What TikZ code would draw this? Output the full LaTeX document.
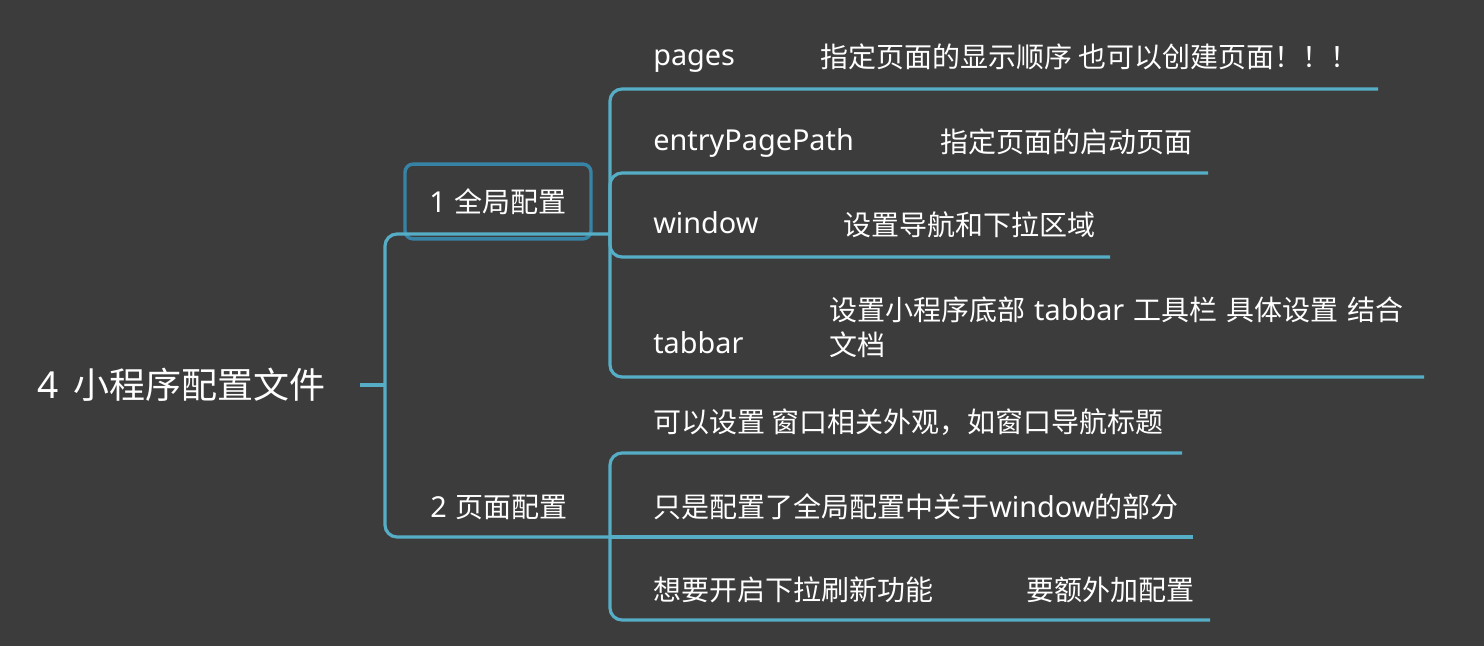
\documentclass[tikz,border=0pt]{standalone}
\usepackage{fontspec}
\setmainfont{Noto Sans CJK SC}
\newfontfamily\latfont[Scale=1.03]{Noto Sans}
\newcommand\latn[1]{{\latfont #1}}
\definecolor{bg}{HTML}{3C3C3C}
\definecolor{ln}{HTML}{56ADC6}
\definecolor{bx}{HTML}{3683A6}
\definecolor{tx}{HTML}{FFFFFF}
\begin{document}
\begin{tikzpicture}[x=0.75pt,y=-0.75pt,
  lbl/.style={anchor=base west,inner sep=0pt,text=tx,font=\fontsize{21}{26}\selectfont},
  rootlbl/.style={lbl,font=\fontsize{27}{32}\selectfont},
  conn/.style={draw=ln,line width=2.4pt,rounded corners=9pt},
  topicbox/.style={draw=bx,line width=2.6pt,rounded corners=6pt,inner sep=0pt,
    minimum width=139.5pt,minimum height=56pt,text=tx,font=\fontsize{21}{26}\selectfont}]
\fill[bg] (0,0) rectangle (1484,646);
\useasboundingbox (0,0) rectangle (1484,646);

% root and level-1 topics
\node[rootlbl] (root) at (37,398) {\latn{4}\hspace{5pt} 小程序配置文件};
\node[topicbox] (g1) at (498,201.5) {\latn{1}\hspace{2pt} 全局配置};
\node[lbl] (g2) at (430,517) {\latn{2}\hspace{2pt} 页面配置};

% global config items
\node[lbl] (pages) at (653,65) {\latn{pages}};
\node[lbl] (pagesd) at (820,67) {指定页面的显示顺序 也可以创建页面！！！};
\node[lbl] (entry) at (653,150) {\latn{entryPagePath}};
\node[lbl] (entryd) at (940,152) {指定页面的启动页面};
\node[lbl] (win) at (653,233) {\latn{window}};
\node[lbl] (wind) at (843,235) {设置导航和下拉区域};
\node[lbl] (tab) at (653,353) {\latn{tabbar}};
\node[lbl,align=left] (tabd) at (829,355) {设置小程序底部\hspace{2pt} \latn{tabbar}\hspace{2pt} 工具栏\hspace{2pt} 具体设置\hspace{2pt} 结合\\[0pt]文档};

% page config items
\node[lbl] (p1) at (653,432) {可以设置 窗口相关外观，如窗口导航标题};
\node[lbl] (p2) at (653,517) {只是配置了全局配置中关于\latn{window}的部分};
\node[lbl] (p3) at (653,600) {想要开启下拉刷新功能};
\node[lbl] (p3d) at (1026,600) {要额外加配置};

% connector points
\coordinate (r0) at (360,385);
\coordinate (rj) at (385,385);
\coordinate (j1) at (610,234);
\coordinate (j2) at (610,537);
\coordinate (e1) at (1378,89);
\coordinate (e2) at (1208,173);
\coordinate (e3) at (1110,257);
\coordinate (e4) at (1424,377);
\coordinate (f1) at (1182,453);
\coordinate (f2) at (1193,537);
\coordinate (f3) at (1210,620);

\draw[conn] (r0) -- (rj);
\draw[conn] (rj) |- (j1);
\draw[conn] (rj) |- (j2);
\draw[conn] (j1) |- (e1);
\draw[conn] (j1) |- (e2);
\draw[conn] (j1) |- (e3);
\draw[conn] (j1) |- (e4);
\draw[conn] (j2) |- (f1);
\draw[conn] (j2) -- (f2);
\draw[conn] (j2) |- (f3);
\end{tikzpicture}
\end{document}
